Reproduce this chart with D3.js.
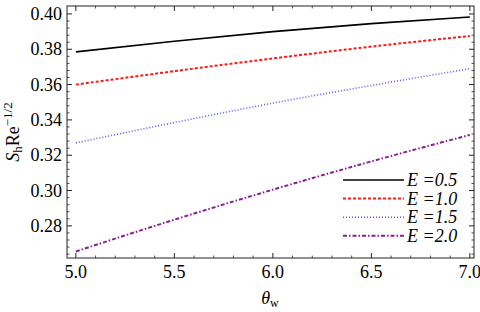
<!DOCTYPE html>
<html>
<head>
<meta charset="utf-8">
<script src="https://cdn.jsdelivr.net/npm/d3@7"></script>
<style>
  body { margin: 0; background: #fff; }
  svg { display: block; }
  text { font-family: 'Liberation Serif', 'Times New Roman', Times, 'DejaVu Serif', serif; }
</style>
</head>
<body>
<div id="chart"></div>
<script>
/** --- DATA --- */
const theta = [5.0, 5.5, 6.0, 6.5, 7.0];
const e05 = [0.3785, 0.3845, 0.3900, 0.3945, 0.3983];
const e10 = [0.3600, 0.3676, 0.3748, 0.3815, 0.3875];
const e15 = [0.3270, 0.3385, 0.3495, 0.3595, 0.3690];
const e20 = [0.2655, 0.2835, 0.3005, 0.3165, 0.3315];
const seriesNames = ['E =0.5', 'E =1.0', 'E =1.5', 'E =2.0'];
const xTicks = [5.0, 5.5, 6.0, 6.5, 7.0];
const yTicks = [0.28, 0.30, 0.32, 0.34, 0.36, 0.38, 0.40];

/** --- DIMENSIONS --- */
const width = 480;
const height = 312;
const mLeft = 67, mRight = 474, mTop = 6, mBottom = 258;
const serif = "'Liberation Serif', 'Times New Roman', serif";

const svg = d3.select('#chart').append('svg')
  .attr('width', width)
  .attr('height', height)
  .attr('font-family', serif);

const xScale = d3.scaleLinear().domain([4.955, 7.021]).range([mLeft, mRight]);
const yScale = d3.scaleLinear().domain([0.2618, 0.4045]).range([mBottom, mTop]);

const styles = [
  { color: '#000000', dash: null, w: 1.6 },
  { color: '#ff1a1a', dash: '3,2', w: 2 },
  { color: '#5a5aff', dash: '1,2', w: 1.6 },
  { color: '#8a1f96', dash: '4,2,1.5,2', w: 2 }
];
const allSeries = [e05, e10, e15, e20];

/** --- FRAME + TICKS --- */
const frameColor = '#222';
const xMinor = d3.range(50, 71).map(d => d / 10).filter(d => !xTicks.some(t => Math.abs(t - d) < 1e-6));
const yMinor = d3.range(264, 404, 4).map(d => d / 1000).filter(d => !yTicks.some(t => Math.abs(t - d) < 1e-6));

const axisG = svg.append('g');
// bottom + top
[[mBottom, -1], [mTop, 1]].forEach(([yy, dir]) => {
  axisG.selectAll(null).data(xTicks).enter().append('line')
    .attr('x1', d => xScale(d)).attr('x2', d => xScale(d))
    .attr('y1', yy).attr('y2', yy + dir * 5)
    .attr('stroke', frameColor).attr('stroke-width', 1);
  axisG.selectAll(null).data(xMinor).enter().append('line')
    .attr('x1', d => xScale(d)).attr('x2', d => xScale(d))
    .attr('y1', yy).attr('y2', yy + dir * 2.5)
    .attr('stroke', frameColor).attr('stroke-width', 0.8);
});
// left + right
[[mLeft, 1], [mRight, -1]].forEach(([xx, dir]) => {
  axisG.selectAll(null).data(yTicks).enter().append('line')
    .attr('x1', xx).attr('x2', xx + dir * 5)
    .attr('y1', d => yScale(d)).attr('y2', d => yScale(d))
    .attr('stroke', frameColor).attr('stroke-width', 1);
  axisG.selectAll(null).data(yMinor).enter().append('line')
    .attr('x1', xx).attr('x2', xx + dir * 2.5)
    .attr('y1', d => yScale(d)).attr('y2', d => yScale(d))
    .attr('stroke', frameColor).attr('stroke-width', 0.8);
});

axisG.append('rect')
  .attr('x', mLeft).attr('y', mTop)
  .attr('width', mRight - mLeft).attr('height', mBottom - mTop)
  .attr('fill', 'none').attr('stroke', frameColor).attr('stroke-width', 1);

// tick labels
axisG.selectAll(null).data(xTicks).enter().append('text')
  .attr('x', d => xScale(d)).attr('y', mBottom + 20)
  .attr('text-anchor', 'middle').attr('font-size', 18)
  .text(d => d.toFixed(1));
axisG.selectAll(null).data(yTicks).enter().append('text')
  .attr('x', mLeft - 5).attr('y', d => yScale(d) + 6)
  .attr('text-anchor', 'end').attr('font-size', 18)
  .text(d => d.toFixed(2));

// axis titles
const xt = svg.append('text')
  .attr('x', 270).attr('y', 304)
  .attr('text-anchor', 'middle').attr('font-size', 18);
xt.append('tspan').attr('font-style', 'italic').text('θ');
xt.append('tspan').attr('font-size', 12).attr('dy', 3).text('w');

const yt = svg.append('text')
  .attr('transform', 'translate(19,132) rotate(-90)')
  .attr('text-anchor', 'middle').attr('font-size', 18);
yt.append('tspan').attr('font-style', 'italic').text('S');
yt.append('tspan').attr('font-size', 13).attr('dy', 3).text('h');
yt.append('tspan').attr('dy', -3).text('Re');
yt.append('tspan').attr('font-size', 13).attr('dy', -7).text('−1/2');

/** --- LINES --- */
const line = d3.line()
  .x(d => xScale(d[0]))
  .y(d => yScale(d[1]))
  .curve(d3.curveMonotoneX);

allSeries.forEach((vals, i) => {
  svg.append('path')
    .datum(theta.map((t, j) => [t, vals[j]]))
    .attr('fill', 'none')
    .attr('stroke', styles[i].color)
    .attr('stroke-width', styles[i].w)
    .attr('stroke-dasharray', styles[i].dash)
    .attr('d', line);
});

/** --- LEGEND --- */
const legend = svg.append('g');
seriesNames.forEach((name, i) => {
  const yy = 180 + i * 18.6;
  legend.append('line')
    .attr('x1', 343).attr('x2', 404)
    .attr('y1', yy).attr('y2', yy)
    .attr('stroke', styles[i].color)
    .attr('stroke-width', styles[i].w)
    .attr('stroke-dasharray', styles[i].dash);
  legend.append('text')
    .attr('x', 407).attr('y', yy + 6)
    .attr('font-size', 18).attr('font-style', 'italic')
    .text(name);
});
</script>
</body>
</html>
